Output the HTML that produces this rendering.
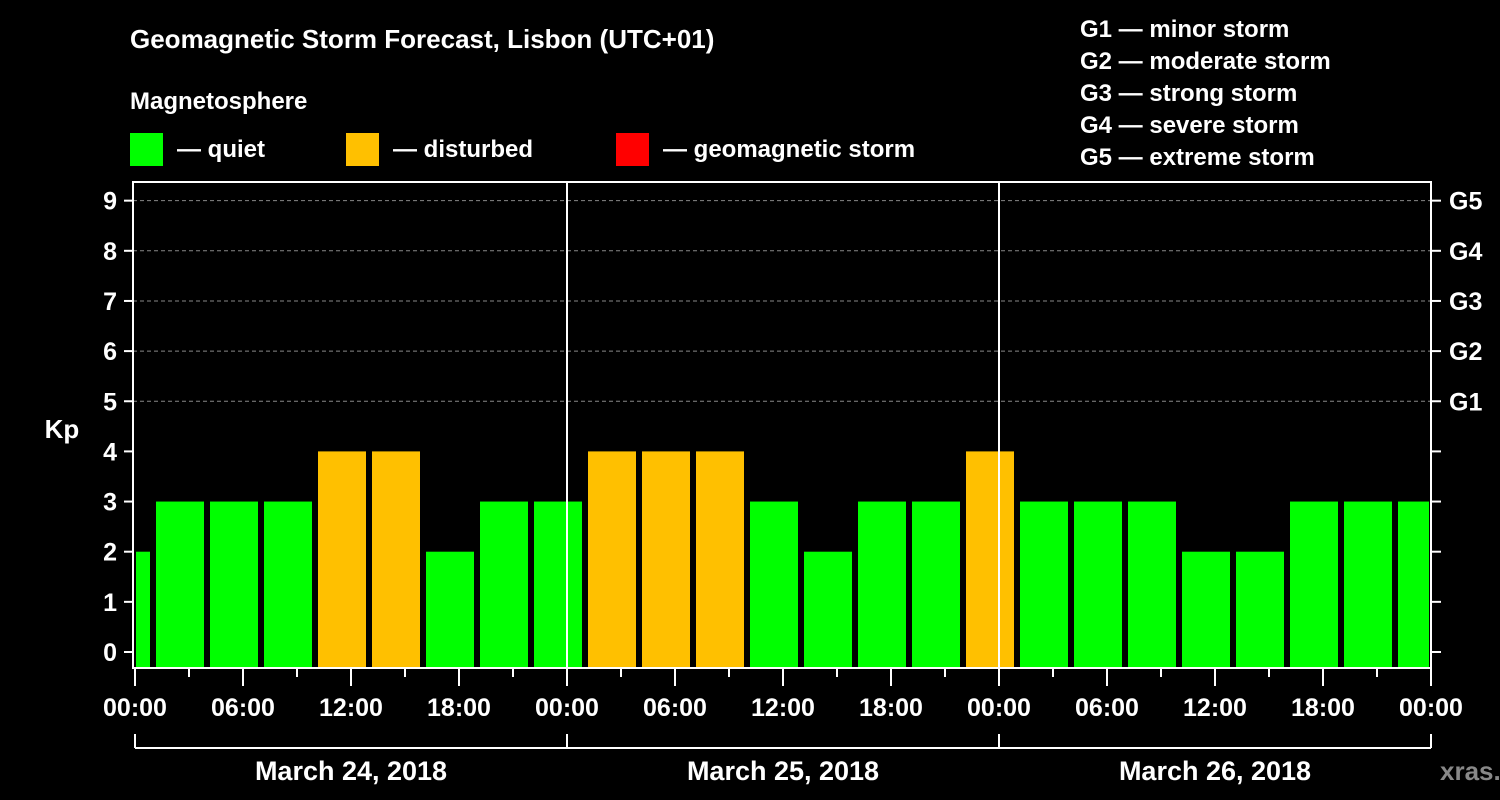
<!DOCTYPE html>
<html><head><meta charset="utf-8"><style>
body{margin:0;background:#000;}
svg{display:block;font-family:"Liberation Sans",Arial,sans-serif;font-weight:bold;}
</style></head><body>
<svg id="c" width="1500" height="800" viewBox="0 0 1500 800">
<rect width="1500" height="800" fill="#000"/>
<text x="130" y="48" fill="#fff" font-size="26">Geomagnetic Storm Forecast, Lisbon (UTC+01)</text>
<text x="130" y="109" fill="#fff" font-size="24">Magnetosphere</text>
<g><rect x="130" y="133" width="33" height="33" fill="#00ff00"/><text x="177" y="157" fill="#fff" font-size="24">— quiet</text></g>
<g><rect x="346" y="133" width="33" height="33" fill="#ffc000"/><text x="393" y="157" fill="#fff" font-size="24">— disturbed</text></g>
<g><rect x="616" y="133" width="33" height="33" fill="#ff0000"/><text x="663" y="157" fill="#fff" font-size="24">— geomagnetic storm</text></g>
<g fill="#fff" font-size="24">
<text x="1080" y="37">G1 — minor storm</text>
<text x="1080" y="69">G2 — moderate storm</text>
<text x="1080" y="101">G3 — strong storm</text>
<text x="1080" y="133">G4 — severe storm</text>
<text x="1080" y="165">G5 — extreme storm</text>
</g>
<text x="62" y="438" fill="#fff" font-size="26" text-anchor="middle">Kp</text>
<text x="1440" y="780" fill="#888" font-size="26">xras.ru</text>
<g id="grid"></g><g id="bars"></g><g id="axes"></g>
</svg>
<script>
const kpValues=[2,3,3,3,4,4,2,3,3,4,4,4,3,2,3,3,4,3,3,3,2,2,3,3,3];
const barStartHours=[-2,1,4,7,10,13,16,19,22,25,28,31,34,37,40,43,46,49,52,55,58,61,64,67,70];
const xTickLabels=["00:00","06:00","12:00","18:00","00:00","06:00","12:00","18:00","00:00","06:00","12:00","18:00","00:00"];
const dayLabels=["March 24, 2018","March 25, 2018","March 26, 2018"];
const gLabels=["G1","G2","G3","G4","G5"];
const NS="http://www.w3.org/2000/svg";
const X0=135,PXH=18,TOTAL=72,Y0=652,PXU=50.15,TOP=182,BOT=668;
const x=h=>X0+h*PXH, y=v=>Y0-v*PXU;
function mk(t,a,p){const e=document.createElementNS(NS,t);for(const k in a)e.setAttribute(k,a[k]);p.appendChild(e);return e;}
const grid=document.getElementById('grid'),bars=document.getElementById('bars'),axes=document.getElementById('axes');
for(let v=5;v<=9;v++){const l=mk('line',{x1:133,x2:1431,y1:y(v),y2:y(v),stroke:'#888','stroke-dasharray':'4,3','stroke-width':1},grid);
}
const col=v=>v>=5?'#ff0000':(v>=4?'#ffc000':'#00ff00');
kpValues.forEach((v,i)=>{let s=x(barStartHours[i])+3,e=x(barStartHours[i]+3)-3;
if(barStartHours[i]<0)s=x(0)+1; if(barStartHours[i]+3>TOTAL)e=x(TOTAL)-2;
if(e<=s)return;
const r=mk('rect',{x:s,y:y(v),width:e-s,height:BOT-y(v),fill:col(v)},bars);
});
// day separators
[24,48].forEach(h=>{const l=mk('line',{x1:x(h),x2:x(h),y1:TOP,y2:BOT,stroke:'#fff','stroke-width':2},axes);
});
// frame
const f=mk('rect',{x:133,y:TOP,width:1298,height:BOT-TOP,fill:'none',stroke:'#fff','stroke-width':2},axes);

for(let v=0;v<=9;v++){
mk('line',{x1:124,x2:133,y1:y(v),y2:y(v),stroke:'#fff','stroke-width':2},axes);
mk('line',{x1:1431,x2:1441,y1:y(v),y2:y(v),stroke:'#fff','stroke-width':2},axes);
const t=mk('text',{x:117,y:y(v)+9,fill:'#fff','font-size':25,'text-anchor':'end'},axes);t.textContent=v;

if(v>=5){const g=mk('text',{x:1449,y:y(v)+9,fill:'#fff','font-size':25},axes);g.textContent=gLabels[v-5];
}}
for(let h=0;h<=TOTAL;h+=3){mk('line',{x1:x(h),x2:x(h),y1:BOT,y2:h%6==0?686:677,stroke:'#fff','stroke-width':2},axes);}
xTickLabels.forEach((s,i)=>{const t=mk('text',{x:x(i*6),y:716,fill:'#fff','font-size':25,'text-anchor':'middle'},axes);t.textContent=s;
});
mk('line',{x1:x(0),x2:x(72),y1:748,y2:748,stroke:'#fff','stroke-width':2},axes);
for(let d=0;d<=3;d++)mk('line',{x1:x(d*24),x2:x(d*24),y1:734,y2:748,stroke:'#fff','stroke-width':2},axes);
dayLabels.forEach((s,i)=>{const t=mk('text',{x:x(i*24+12),y:780,fill:'#fff','font-size':27,'text-anchor':'middle'},axes);t.textContent=s;
});
</script>
</body></html>
